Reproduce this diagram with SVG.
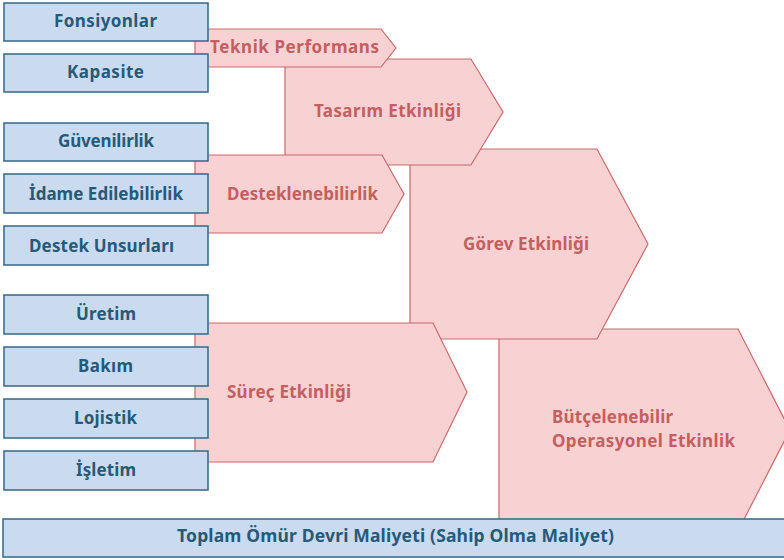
<svg xmlns="http://www.w3.org/2000/svg" width="784" height="560" viewBox="0 0 784 560">
<style>
.pk{fill:#f8d1d3;stroke:#c96a6b;stroke-width:1.2}
.bl{fill:#cadaef;stroke:#336888;stroke-width:1.5}
.bt{font-family:"Noto Sans",Lato,sans-serif;font-weight:700;font-size:17px;fill:#255a7a;text-anchor:middle}
.pt{font-family:"Noto Sans",Lato,sans-serif;font-weight:700;font-size:17px;fill:#c45f5f}
.mid{text-anchor:middle}
.ft{font-family:"Noto Sans",Lato,sans-serif;font-weight:700;font-size:17.5px;fill:#255a7a;text-anchor:middle}
</style>
<rect width="784" height="560" fill="#ffffff"/>
<g id="connectors"></g>
<g id="butce"><polygon class="pk" points="499,329 738,329 790,430 738,531 499,531"/>
<text class="pt" x="552" y="423" textLength="121">Bütçelenebilir</text><text class="pt" x="552" y="447" textLength="183">Operasyonel Etkinlik</text></g>
<g id="gorev"><polygon class="pk" points="410,149 597,149 648,244 597,339 410,339"/>
<text class="pt mid" x="526" y="250" textLength="126">Görev Etkinliği</text></g>
<g id="tasarim"><polygon class="pk" points="285,59 471,59 503,112 471,165 285,165"/>
<text class="pt mid" x="387.5" y="117" textLength="147">Tasarım Etkinliği</text></g>
<g id="teknik"><polygon class="pk" points="195,29 381,29 396,48 381,67 195,67"/>
<text class="pt mid" x="294.5" y="53" textLength="169">Teknik Performans</text></g>
<g id="destek"><polygon class="pk" points="195,155 382,155 404,194 382,233 195,233"/>
<text class="pt" x="227" y="200" textLength="151">Desteklenebilirlik</text></g>
<g id="surec"><polygon class="pk" points="195,323 433,323 467,392 433,462 195,462"/>
<text class="pt" x="227" y="398" textLength="124">Süreç Etkinliği</text></g>
<g id="fonsiyonlar"><rect class="bl" x="4" y="3" width="204" height="38"/><text class="bt" x="105.5" y="27" textLength="103">Fonsiyonlar</text></g>
<g id="kapasite"><rect class="bl" x="4" y="54" width="204" height="38"/><text class="bt" x="105.5" y="78" textLength="77">Kapasite</text></g>
<g id="guvenilirlik"><rect class="bl" x="4" y="123" width="204" height="38"/><text class="bt" x="106" y="147" textLength="96">Güvenilirlik</text></g>
<g id="idame"><rect class="bl" x="4" y="174" width="204" height="39"/><text class="bt" x="106" y="200" textLength="154">İdame Edilebilirlik</text></g>
<g id="unsurlar"><rect class="bl" x="4" y="226" width="204" height="39"/><text class="bt" x="101.5" y="252" textLength="145">Destek Unsurları</text></g>
<g id="uretim"><rect class="bl" x="4" y="295" width="204" height="39"/><text class="bt" x="106" y="320" textLength="60">Üretim</text></g>
<g id="bakim"><rect class="bl" x="4" y="347" width="204" height="39"/><text class="bt" x="105.5" y="372" textLength="55">Bakım</text></g>
<g id="lojistik"><rect class="bl" x="4" y="399" width="204" height="39"/><text class="bt" x="105.5" y="424" textLength="63">Lojistik</text></g>
<g id="isletim"><rect class="bl" x="4" y="451" width="204" height="39"/><text class="bt" x="106" y="476" textLength="60">İşletim</text></g>
<g id="toplam"><rect class="bl" x="3" y="519" width="790" height="38"/><text class="ft" x="395.5" y="542" textLength="437">Toplam Ömür Devri Maliyeti (Sahip Olma Maliyet)</text></g>
</svg>
